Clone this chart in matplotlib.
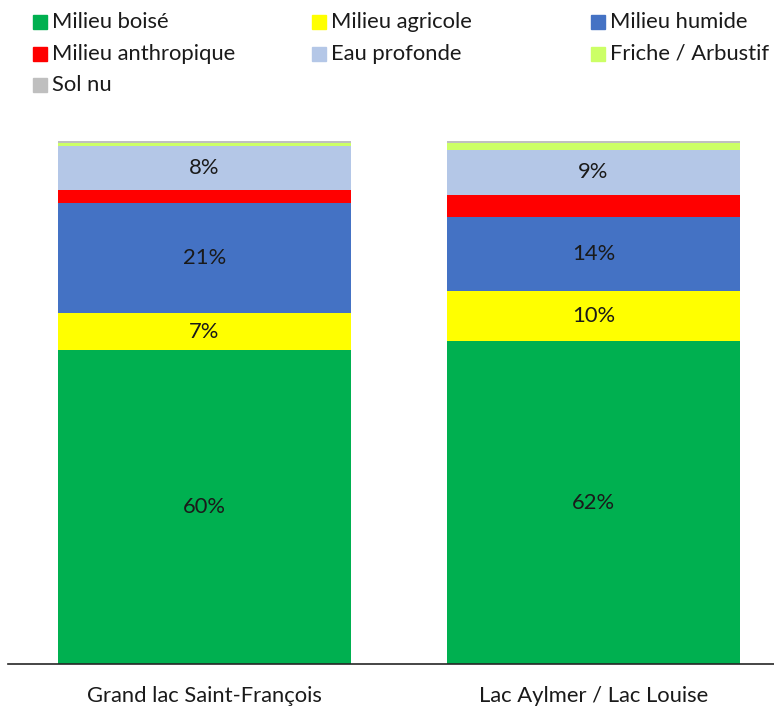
import matplotlib.pyplot as plt
from matplotlib.patches import Rectangle

# catégories et séries (en %)
sites = ["Grand lac Saint-François", "Lac Aylmer / Lac Louise"]
classes = ["Milieu boisé", "Milieu agricole", "Milieu humide", "Milieu anthropique",
           "Eau profonde", "Friche / Arbustif", "Sol nu"]
couleurs = ["#00B050", "#FFFF00", "#4472C4", "#FF0000", "#B4C7E7", "#CCFF66", "#BFBFBF"]

boise = [60.0, 61.7]
agricole = [7.1, 9.7]
humide = [21.0, 14.1]
anthropique = [2.5, 4.2]
eau = [8.4, 8.6]
friche = [0.6, 1.4]
sol_nu = [0.4, 0.3]
series = [boise, agricole, humide, anthropique, eau, friche, sol_nu]

plt.rcParams['font.family'] = ['Lato', 'DejaVu Sans']
taille = 15.8

fig = plt.figure(figsize=(7.74, 7.09), dpi=100)
ax = fig.add_axes([8 / 774, 45 / 709, 766 / 774, 523 / 709])

x = range(len(sites))
bas = [0.0] * len(sites)
for nom, vals, coul in zip(classes, series, couleurs):
    ax.bar(x, vals, bottom=bas, width=0.753, color=coul, label=nom)
    # étiquettes seulement pour les gros segments
    for i, v in enumerate(vals):
        if v >= 5:
            ax.text(i, bas[i] + v / 2, f"{v:.0f}%", ha="center", va="center",
                    fontsize=taille, color="#1a1a1a")
    bas = [b + v for b, v in zip(bas, vals)]

ax.set_xlim(-0.505, 1.464)
ax.set_ylim(0, 100)
ax.set_xticks(list(x))
ax.set_xticklabels(sites, fontsize=taille, color="#1a1a1a")
ax.tick_params(axis="x", length=0, pad=16)
ax.set_yticks([])
for s in ["top", "right", "left"]:
    ax.spines[s].set_visible(False)
ax.spines["bottom"].set_color("#262626")
ax.spines["bottom"].set_linewidth(1.2)

# légende (3 colonnes, remplie par ligne)
for k, (nom, coul) in enumerate(zip(classes, couleurs)):
    r, c = divmod(k, 3)
    x0 = 33 + c * 279
    y0 = 22 + r * 31.5
    fig.patches.append(Rectangle((x0 / 774, 1 - (y0 + 7) / 709), 14 / 774, 14 / 709,
                                 transform=fig.transFigure, color=coul))
    fig.text((x0 + 19) / 774, 1 - y0 / 709, nom, ha="left", va="center",
             fontsize=taille, color="#1a1a1a")

fig.savefig("out.png", dpi=100)
